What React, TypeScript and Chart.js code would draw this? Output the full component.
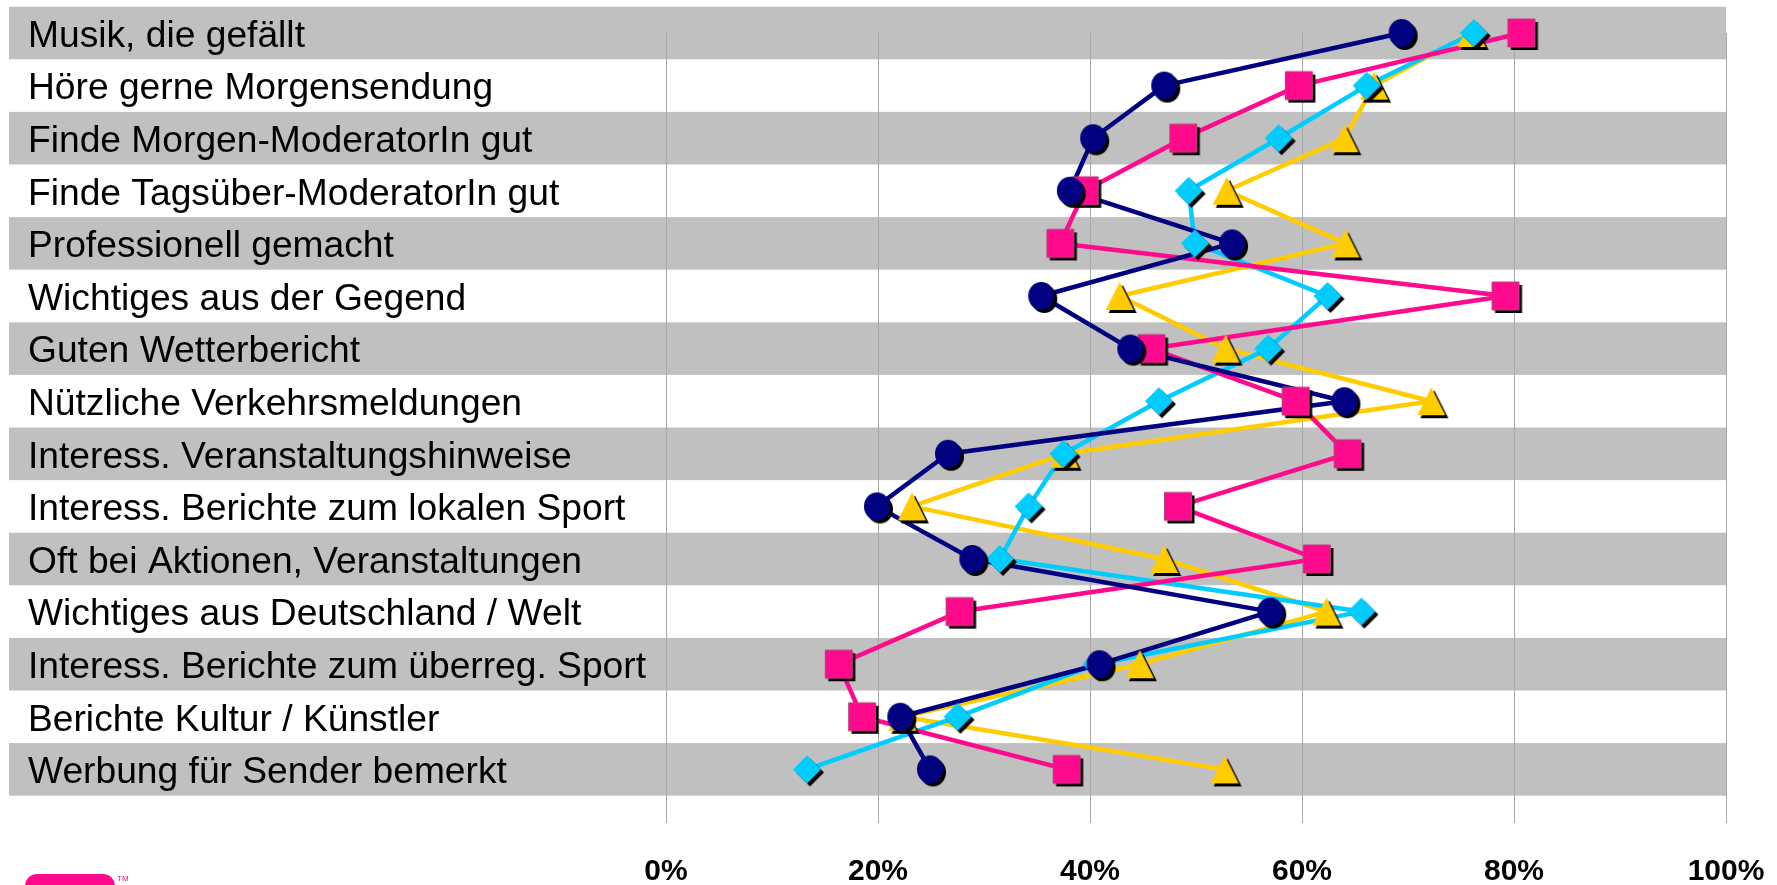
import React, { useEffect, useRef } from 'react';
import { Chart, registerables } from 'chart.js';

Chart.register(...registerables);

const categories = [
  'Musik, die gefällt',
  'Höre gerne Morgensendung',
  'Finde Morgen-ModeratorIn gut',
  'Finde Tagsüber-ModeratorIn gut',
  'Professionell gemacht',
  'Wichtiges aus der Gegend',
  'Guten Wetterbericht',
  'Nützliche Verkehrsmeldungen',
  'Interess. Veranstaltungshinweise',
  'Interess. Berichte zum lokalen Sport',
  'Oft bei Aktionen, Veranstaltungen',
  'Wichtiges aus Deutschland / Welt',
  'Interess. Berichte zum überreg. Sport',
  'Berichte Kultur / Künstler',
  'Werbung für Sender bemerkt',
];

const seriesNavy = [69.4, 47.0, 40.3, 38.1, 53.4, 35.4, 43.8, 64.0, 26.6, 19.9, 28.9, 57.0, 40.9, 22.1, 24.9];
const seriesMagenta = [80.7, 59.7, 48.8, 39.5, 37.2, 79.2, 45.8, 59.4, 64.3, 48.3, 61.4, 27.7, 16.3, 18.5, 37.8];
const seriesYellow = [76.0, 66.8, 64.0, 52.9, 64.1, 42.8, 52.8, 72.2, 37.6, 23.2, 47.0, 62.3, 44.7, 22.3, 52.7];
const seriesCyan = [76.2, 66.1, 57.8, 49.3, 49.9, 62.4, 56.8, 46.5, 37.5, 34.2, 31.5, 65.6, 40.6, 27.5, 13.3];

const xTickValues = [0, 20, 40, 60, 80, 100];

const FONT = '"Liberation Sans", Arial, Helvetica, sans-serif';

function makeMarker(shape: string, color: string, stroke?: string) {
  const c = document.createElement('canvas');
  c.width = 40;
  c.height = 40;
  const ctx = c.getContext('2d') as CanvasRenderingContext2D;
  const path = (dx: number, dy: number) => {
    const cx = 20 + dx;
    const cy = 20 + dy;
    ctx.beginPath();
    if (shape === 'circle') {
      ctx.ellipse(cx, cy, 13, 14, 0, 0, Math.PI * 2);
    } else if (shape === 'square') {
      ctx.rect(cx - 13.5, cy - 14, 27, 28);
    } else if (shape === 'triangle') {
      ctx.moveTo(cx, cy - 14);
      ctx.lineTo(cx + 14, cy + 14);
      ctx.lineTo(cx - 14, cy + 14);
      ctx.closePath();
    } else {
      ctx.moveTo(cx, cy - 14);
      ctx.lineTo(cx + 14, cy);
      ctx.lineTo(cx, cy + 14);
      ctx.lineTo(cx - 14, cy);
      ctx.closePath();
    }
  };
  ctx.fillStyle = '#000000';
  path(3, 3);
  ctx.fill();
  ctx.fillStyle = color;
  path(0, 0);
  ctx.fill();
  if (stroke) {
    ctx.strokeStyle = stroke;
    ctx.lineWidth = 1;
    ctx.stroke();
  }
  return c;
}

const zeroPadding = (scale: any) => {
  scale.paddingLeft = 0;
  scale.paddingRight = 0;
  scale.paddingTop = 0;
  scale.paddingBottom = 0;
};

const backgroundPlugin = {
  id: 'bandsAndGrid',
  beforeDraw(chart: any) {
    const ctx = chart.ctx as CanvasRenderingContext2D;
    const x = chart.scales.x;
    const y = chart.scales.y;
    // nudge category labels slightly down to sit like the original text
    const items = y.getLabelItems(chart.chartArea);
    items.forEach((it: any) => {
      if (!it.__shifted) {
        it.textOffset = (it.textOffset || 0) + 3.5;
        it.__shifted = true;
      }
    });
    ctx.save();
    ctx.fillStyle = '#ffffff';
    ctx.fillRect(0, 0, chart.width, chart.height);
    const left = 9;
    const right = x.getPixelForValue(100);
    const half = (y.getPixelForValue(1) - y.getPixelForValue(0)) / 2;
    ctx.fillStyle = '#C0C0C0';
    categories.forEach((_, i) => {
      if (i % 2 === 0) {
        const c = y.getPixelForValue(i);
        ctx.fillRect(left, c - half, right - left, half * 2);
      }
    });
    ctx.strokeStyle = '#A8A8A8';
    ctx.lineWidth = 1;
    const top = y.getPixelForValue(0);
    const bottom = y.getPixelForValue(categories.length - 1) + half * 2 + 1;
    xTickValues.forEach((v) => {
      const px = Math.round(x.getPixelForValue(v)) + 0.5;
      ctx.beginPath();
      ctx.moveTo(px, top);
      ctx.lineTo(px, bottom);
      ctx.stroke();
    });
    ctx.restore();
  },
  afterDraw(chart: any) {
    const ctx = chart.ctx as CanvasRenderingContext2D;
    ctx.save();
    ctx.fillStyle = '#FF0A8C';
    ctx.beginPath();
    (ctx as any).roundRect(25, 874, 90, 30, 12);
    ctx.fill();
    ctx.font = '8px ' + FONT;
    ctx.textBaseline = 'top';
    ctx.fillText('TM', 117, 875);
    ctx.restore();
  },
};

export default function App() {
  const ref = useRef<HTMLCanvasElement | null>(null);

  useEffect(() => {
    const canvas = ref.current;
    if (!canvas) return;

    const series = [
      { label: 'Serie A', data: seriesNavy, color: '#000080', shape: 'circle', z: 1 },
      { label: 'Serie B', data: seriesMagenta, color: '#FF0A8C', shape: 'square', z: 2, stroke: '#B8407A' },
      { label: 'Serie D', data: seriesCyan, color: '#00CCFF', shape: 'diamond', z: 3 },
      { label: 'Serie C', data: seriesYellow, color: '#FFCC00', shape: 'triangle', z: 4 },
    ];

    const lineSets = series.map((s) => ({
      label: s.label + ' (Linie)',
      data: s.data,
      borderColor: s.color,
      backgroundColor: s.color,
      borderWidth: 4.5,
      borderJoinStyle: 'round',
      borderCapStyle: 'round',
      pointRadius: 0,
      pointHoverRadius: 0,
      fill: false,
      tension: 0,
      clip: false,
      order: 10 + s.z,
    }));
    const markerSets = series.map((s) => ({
      label: s.label,
      data: s.data,
      showLine: false,
      borderColor: s.color,
      backgroundColor: s.color,
      pointStyle: makeMarker(s.shape, s.color, (s as any).stroke),
      pointRadius: 14,
      pointHoverRadius: 14,
      clip: false,
      order: s.z,
    }));

    const chart = new Chart(canvas, {
      type: 'line',
      data: {
        labels: categories,
        datasets: [...lineSets, ...markerSets] as any,
      },
      options: {
        indexAxis: 'y',
        animation: false,
        responsive: false,
        maintainAspectRatio: false,
        events: [],
        layout: { autoPadding: false, padding: { left: 28, top: 6.7, right: 51, bottom: 0 } },
        plugins: {
          legend: { display: false },
          tooltip: { enabled: false },
        },
        scales: {
          x: {
            type: 'linear',
            position: 'bottom',
            min: 0,
            max: 100,
            afterBuildTicks: (scale: any) => {
              scale.ticks = xTickValues.map((v) => ({ value: v }));
            },
            ticks: {
              callback: (v: any) => v + '%',
              font: { family: FONT, size: 30, weight: 'bold' },
              color: '#000000',
              padding: 58,
              maxRotation: 0,
              autoSkip: false,
            },
            grid: { display: false, drawTicks: false },
            border: { display: false },
            afterFit: (scale: any) => {
              scale.height = 89.3;
              zeroPadding(scale);
            },
          } as any,
          y: {
            type: 'category',
            offset: true,
            ticks: {
              crossAlign: 'far',
              font: { family: FONT, size: 37.2 },
              color: '#000000',
              autoSkip: false,
              padding: 0,
            },
            grid: { display: false, drawTicks: false },
            border: { display: false },
            afterFit: (scale: any) => {
              scale.width = 638;
              zeroPadding(scale);
            },
          } as any,
        },
      } as any,
      plugins: [backgroundPlugin],
    });

    return () => chart.destroy();
  }, []);

  return (
    <div style={{ position: 'absolute', left: 0, top: 0, width: 1777, height: 885, background: '#ffffff' }}>
      <canvas ref={ref} width={1777} height={885} style={{ width: 1777, height: 885, display: 'block' }} />
    </div>
  );
}
